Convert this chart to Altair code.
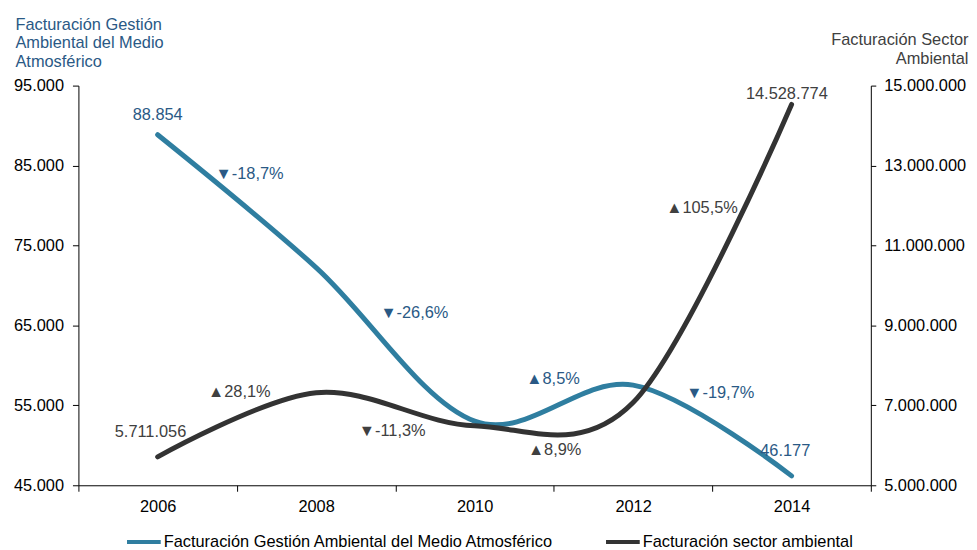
import altair as alt
import pandas as pd

# ---- data ----
years = [2006, 2008, 2010, 2012, 2014]
atmos = [88854, 72240, 53020, 57530, 46177]            # left axis
sector = [5711056, 7316000, 6489000, 7069000, 14528774]  # right axis

name_a = "Facturación Gestión Ambiental del Medio Atmosférico"
name_s = "Facturación sector ambiental"

# label anchors (year, value)
atmos_lab_x = [2006.0, 2007.16, 2009.24, 2010.99, 2013.10, 2013.92]
atmos_lab_y = [91300, 83950, 66600, 58280, 56540, 49340]
sector_lab_x = [2005.91, 2007.03, 2008.96, 2011.01, 2012.87, 2013.94]
sector_lab_y = [6340000, 7345000, 6365000, 5881000, 11948000, 14777000]

BLUE = "#2F7EA0"
BLUE_TXT = "#2A5985"
DARK = "#333333"
GRAY_TXT = "#404040"
FONT = "Liberation Sans"
FS = 16.5


def es_int(v):
    return f"{v:,}".replace(",", ".")


def pct_labels(vals):
    out = []
    for a, b in zip(vals[:-1], vals[1:]):
        p = (b / a - 1) * 100
        sym = "▲" if p >= 0 else "▼"
        out.append(f"{sym}{p:.1f}%".replace(".", ","))
    return out


atmos_texts = [es_int(atmos[0])] + pct_labels(atmos) + [es_int(atmos[-1])]
sector_texts = [es_int(sector[0])] + pct_labels(sector) + [es_int(sector[-1])]

df_a = pd.DataFrame({"year": years, "v": atmos, "serie": name_a})
df_s = pd.DataFrame({"year": years, "v": sector, "serie": name_s})
lab_a = pd.DataFrame({"year": atmos_lab_x, "v": atmos_lab_y, "t": atmos_texts})
lab_s = pd.DataFrame({"year": sector_lab_x, "v": sector_lab_y, "t": sector_texts})

xscale = alt.Scale(domain=[2005, 2015], nice=False, zero=False)
ya_scale = alt.Scale(domain=[45000, 95000], nice=False, zero=False)
ys_scale = alt.Scale(domain=[5000000, 15000000], nice=False, zero=False)

color = alt.Color(
    "serie:N",
    scale=alt.Scale(domain=[name_a, name_s], range=[BLUE, DARK]),
    legend=alt.Legend(
        title=None,
        orient="none",
        direction="horizontal",
        legendX=47,
        legendY=441,
        symbolType="stroke",
        symbolSize=1156,
        symbolStrokeWidth=4,
        labelFont=FONT,
        labelFontSize=FS,
        labelColor="#000000",
        labelLimit=600,
        labelOffset=1,
        columnPadding=44,
    ),
)

x_axis = alt.Axis(
    values=list(range(2005, 2016)),
    labelExpr="datum.value % 2 == 0 ? toString(datum.value) : ''",
    tickOpacity={"condition": {"test": "datum.value % 2 == 0", "value": 0}, "value": 1},
    labelOverlap=False,
    labelFlush=False,
    tickSize=6,
    tickColor="#000000",
    domainColor="#000000",
    labelFont=FONT,
    labelFontSize=FS,
    labelColor="#000000",
    labelPadding=7,
    grid=False,
    title=None,
)

ya_axis = alt.Axis(
    values=[45000, 55000, 65000, 75000, 85000, 95000],
    labelExpr="replace(format(datum.value, ','), regexp(',', 'g'), '.')",
    orient="left",
    grid=False,
    tickSize=6,
    tickColor="#000000",
    domainColor="#000000",
    labelFont=FONT,
    labelFontSize=FS,
    labelColor="#000000",
    labelPadding=9,
    title=["Facturación Gestión", "Ambiental del Medio", "Atmosférico"],
    titleAngle=0,
    titleAlign="left",
    titleBaseline="alphabetic",
    titleX=-64,
    titleY=-57,
    titleFont=FONT,
    titleFontSize=FS,
    titleFontWeight="normal",
    titleColor=BLUE_TXT,
    titleLineHeight=19,
)

ys_axis = alt.Axis(
    values=[5000000, 7000000, 9000000, 11000000, 13000000, 15000000],
    labelExpr="replace(format(datum.value, ','), regexp(',', 'g'), '.')",
    orient="right",
    grid=False,
    tickSize=5,
    tickColor="#000000",
    domainColor="#000000",
    labelFont=FONT,
    labelFontSize=FS,
    labelColor="#000000",
    labelPadding=8,
    title=["Facturación Sector", "Ambiental"],
    titleAngle=0,
    titleAlign="right",
    titleBaseline="alphabetic",
    titleX=98,
    titleY=-41,
    titleFont=FONT,
    titleFontSize=FS,
    titleFontWeight="normal",
    titleColor=GRAY_TXT,
    titleLineHeight=19,
)

X = alt.X("year:Q", scale=xscale, axis=x_axis)
YA = alt.Y("v:Q", scale=ya_scale, axis=ya_axis)
YS = alt.Y("v:Q", scale=ys_scale, axis=ys_axis)

line_a = alt.Chart(df_a).mark_line(interpolate="cardinal", strokeWidth=5, strokeCap="round").encode(
    x=X, y=YA, color=color
)
text_a = alt.Chart(lab_a).mark_text(
    font=FONT, fontSize=FS, color=BLUE_TXT, align="center", baseline="middle"
).encode(x=X, y=YA, text="t:N")

line_s = alt.Chart(df_s).mark_line(interpolate="cardinal", strokeWidth=5, strokeCap="round").encode(
    x=X, y=YS, color=color
)
text_s = alt.Chart(lab_s).mark_text(
    font=FONT, fontSize=FS, color=GRAY_TXT, align="center", baseline="middle"
).encode(x=X, y=YS, text="t:N")

left = alt.layer(line_a, text_a)
right = alt.layer(line_s, text_s)

chart = (
    alt.layer(left, right)
    .resolve_scale(y="independent")
    .properties(
        width=799,
        height=403,
        autosize=alt.AutoSizeParams(type="none"),
        padding={"left": 71, "top": 76, "right": 99, "bottom": 63},
        background="white",
    )
    .configure_view(stroke=None)
)

chart.save("out.html", embed_options={"renderer": "svg", "actions": False})
